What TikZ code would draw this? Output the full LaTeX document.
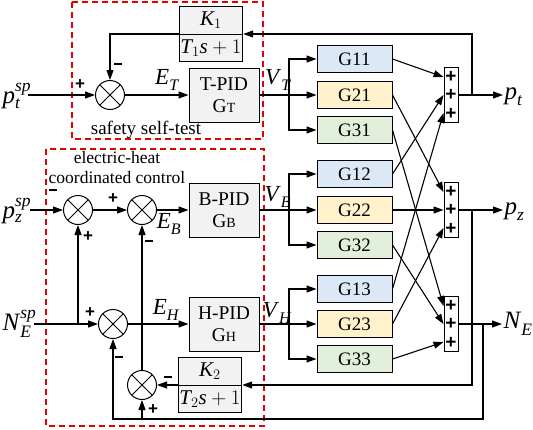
\documentclass[tikz,border=0pt]{standalone}
\usepackage{amsmath}
\usepackage{fontspec}
\setmainfont{Liberation Serif}
\newfontfamily\sgnfont{Liberation Sans}
\usepackage{tikz}
\usetikzlibrary{arrows.meta}

\newcommand\ivar[3]{\textit{#1}$_{\textit{#2}}^{\textit{#3}}$}
\newcommand\gsub[1]{G{\fontsize{14}{14}\selectfont #1}}
\newcommand\mns{\rule{8pt}{1.8pt}}

\tikzset{
  blk/.style={draw,line width=1pt,fill=black!5,minimum width=70pt,minimum height=54pt,inner sep=0pt,align=center,font=\fontsize{19.5}{22}\selectfont},
  kblk/.style={blk,minimum width=58pt,minimum height=55pt,font=\fontsize{21}{22}\selectfont},
  gblk/.style={draw,line width=1pt,minimum width=75pt,minimum height=27pt,inner sep=0pt,font=\fontsize{19}{20}\selectfont},
  sumc/.style={draw,circle,line width=1pt,minimum size=29pt,inner sep=0pt,
    path picture={\draw[line width=1pt] (path picture bounding box.north west) -- (path picture bounding box.south east)
      (path picture bounding box.north east) -- (path picture bounding box.south west);}},
  sumb/.style={draw,line width=1pt,minimum width=14pt,minimum height=55pt,inner sep=0pt,align=center,font=\sgnfont\bfseries\fontsize{19}{18.5}\selectfont},
  sgn/.style={inner sep=0pt,font=\sgnfont\bfseries\fontsize{17}{17}\selectfont},
  lab/.style={inner sep=1pt,font=\fontsize{23}{24}\selectfont},
  iolab/.style={inner sep=0pt,anchor=west,font=\fontsize{25}{28}\selectfont},
  zone/.style={draw=red!90!black,dash pattern=on 6pt off 4pt,line width=1.1pt},
}

\definecolor{gblue}{RGB}{220,232,245}
\definecolor{gyel}{RGB}{255,242,204}
\definecolor{ggrn}{RGB}{226,239,218}

\begin{document}
\begin{tikzpicture}[x=1pt,y=-1pt,line width=1.1pt,>={Triangle[length=10pt,width=7pt]}]
\useasboundingbox (0,0) rectangle (533,429);

% dashed zones
\draw[zone] (72,2) rectangle (263,139);
\draw[zone] (46,149) rectangle (264,426);
\node[font=\fontsize{19}{20}\selectfont] (safe) at (146,130) {safety self-test};
\node[align=center,font=\fontsize{17.5}{20}\selectfont] (ehc) at (117,168) {electric-heat\\coordinated control};

% inputs and summers
\node[iolab] (ptsp) at (2,96) {\ivar{p}{t}{sp}};
\node[iolab] (pzsp) at (2,211) {\ivar{p}{z}{sp}};
\node[iolab] (nesp) at (2,324) {\ivar{N}{E}{sp}};
\coordinate (ptin) at (28,95);
\coordinate (pzin) at (30,210);
\coordinate (nein) at (34,324);

\node[sumc] (sT) at (110,95) {};
\node[sumc] (sZ1) at (78,210) {};
\node[sumc] (sZ2) at (142,210) {};
\node[sumc] (sH) at (113,324) {};
\node[sumc] (sL) at (142,385) {};

% controllers
\node[kblk] (K1) at (211,34) {$\dfrac{\textit{K}_1}{\textit{T}_1\textit{s}+1}$};
\node[kblk] (K2) at (210,385) {$\dfrac{\textit{K}_2}{\textit{T}_2\textit{s}+1}$};
\node[blk] (TPID) at (224,95) {T-PID\\\gsub{T}};
\node[blk] (BPID) at (224,210) {B-PID\\\gsub{B}};
\node[blk] (HPID) at (224,324) {H-PID\\\gsub{H}};

% plant blocks
\node[gblk,fill=gblue] (G11) at (354.5,59) {G11};
\node[gblk,fill=gyel] (G21) at (354.5,95) {G21};
\node[gblk,fill=ggrn] (G31) at (354.5,130) {G31};
\node[gblk,fill=gblue] (G12) at (354.5,174) {G12};
\node[gblk,fill=gyel] (G22) at (354.5,210) {G22};
\node[gblk,fill=ggrn] (G32) at (354.5,245) {G32};
\node[gblk,fill=gblue] (G13) at (354.5,289) {G13};
\node[gblk,fill=gyel] (G23) at (354.5,324) {G23};
\node[gblk,fill=ggrn] (G33) at (354.5,359) {G33};

\node[sumb] (S1) at (451,95) {+\\+\\+};
\node[sumb] (S2) at (451,210) {+\\+\\+};
\node[sumb] (S3) at (451,324) {+\\+\\+};

% outputs
\node[iolab] (pt) at (504,97) {\ivar{p}{t}{}};
\node[iolab] (pz) at (504,212) {\ivar{p}{z}{}};
\node[iolab] (ne) at (503,324) {\ivar{N}{E}{}};
\coordinate (pte) at (503,95);
\coordinate (pze) at (503,210);
\coordinate (nee) at (502,324);

\coordinate (bT) at (289,95);
\coordinate (bB) at (289,210);
\coordinate (bH) at (289,324);
\coordinate (fT) at (472,95);
\coordinate (fZ) at (472,210);
\coordinate (fH) at (483,324);
\coordinate (jH) at (78,324);
\coordinate (bot) at (113,419);
\coordinate (jL) at (142,419);

% signal labels
\node[lab] (ET) at (167,80) {\ivar{E}{T}{}};
\node[lab] (VT) at (278,80) {\ivar{V}{T}{}};
\node[lab] (EB) at (169,224) {\ivar{E}{B}{}};
\node[lab] (VB) at (278,197) {\ivar{V}{B}{}};
\node[lab] (EH) at (166,310) {\ivar{E}{H}{}};
\node[lab] (VH) at (277,313) {\ivar{V}{H}{}};

% signs
\node[sgn] (s1) at (80,85) {+};
\node[sgn] (s2) at (118,64) {\mns};
\node[sgn] (s3) at (53,190) {\mns};
\node[sgn] (s4) at (113,199) {+};
\node[sgn] (s5) at (88,237) {+};
\node[sgn] (s6) at (149,241) {\mns};
\node[sgn] (s7) at (90,313) {+};
\node[sgn] (s8) at (119,357) {\mns};
\node[sgn] (s9) at (168,377) {\mns};
\node[sgn] (s10) at (153,410) {+};

% forward paths
\draw[->] (ptin) -- (sT.west);
\draw[->] (sT.east) -- (TPID.west);
\draw[->] (pzin) -- (sZ1.west);
\draw[->] (sZ1.east) -- (sZ2.west);
\draw[->] (sZ2.east) -- (BPID.west);
\draw[->] (nein) -- (sH.west);
\draw[->] (sH.east) -- (HPID.west);
\draw[->] (jH) -- (sZ1.south);

\foreach \r/\c in {T/1,B/2,H/3}{
  \draw (\r PID.east) -- (b\r);
  \draw[->] (b\r) |- (G1\c.west);
  \draw[->] (b\r) -- (G2\c.west);
  \draw[->] (b\r) |- (G3\c.west);
}

\foreach \i in {1,2,3}{
  \draw[->] (G\i1.east) -- ([yshift=18pt]S\i.west);
  \draw[->] (G\i2.east) -- (S\i.west);
  \draw[->] (G\i3.east) -- ([yshift=-18pt]S\i.west);
}

\draw[->] (S1.east) -- (pte);
\draw[->] (S2.east) -- (pze);
\draw[->] (S3.east) -- (nee);

% feedback paths
\draw[->] (fT) |- (K1.east);
\draw[->] (K1.west) -| (sT.north);
\draw[->] (fZ) |- (K2.east);
\draw[->] (K2.west) -- (sL.east);
\draw[->] (sL.north) -- (sZ2.south);
\draw[->] (fH) |- (bot) -- (sH.south);
\draw[->] (jL) -- (sL.south);

\end{tikzpicture}
\end{document}
